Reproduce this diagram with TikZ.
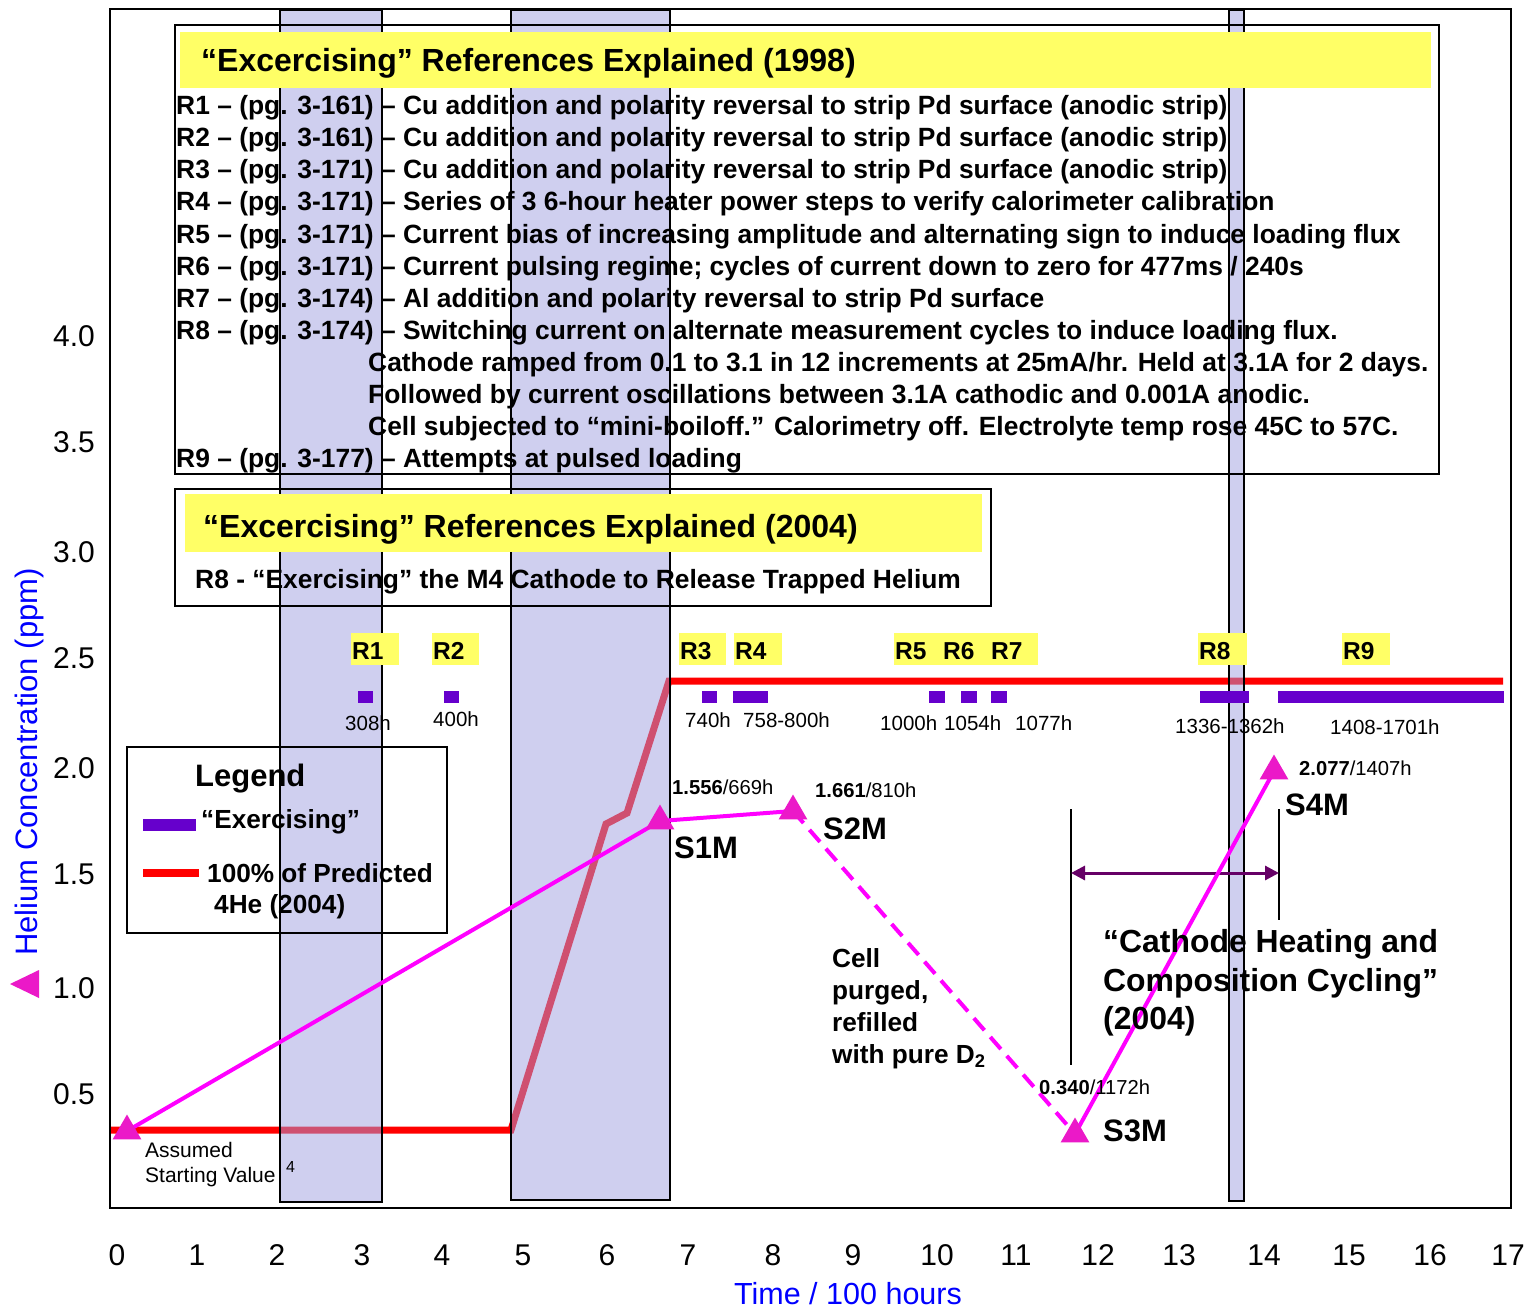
\documentclass[tikz,border=0pt]{standalone}
\usepackage{fontspec}
\setmainfont{Liberation Sans}
\usetikzlibrary{arrows.meta,shapes.geometric}
\definecolor{bandfill}{RGB}{160,160,225}
\definecolor{hlyellow}{RGB}{255,255,102}
\definecolor{exerc}{RGB}{102,0,204}
\definecolor{triColor}{RGB}{235,25,200}
\definecolor{magline}{RGB}{255,0,255}
\definecolor{arrowpurple}{RGB}{102,0,102}
\definecolor{axisblue}{RGB}{0,0,255}
\begin{document}
\begin{tikzpicture}[x=1pt,y=-1pt,
  titletxt/.style={font=\fontsize{32}{38}\selectfont\bfseries, anchor=base west, inner sep=0},
  bodytxt/.style={font=\fontsize{26.4}{30}\selectfont\bfseries, anchor=base west, inner sep=0},
  rlab/.style={font=\fontsize{24.5}{30}\selectfont\bfseries, anchor=base west, inner sep=0},
  hourlab/.style={font=\fontsize{20.5}{24}\selectfont, anchor=base west, inner sep=0},
  vallab/.style={font=\fontsize{20.2}{24}\selectfont, anchor=base west, inner sep=0},
  slab/.style={font=\fontsize{31}{36}\selectfont\bfseries, anchor=base west, inner sep=0},
  annot/.style={font=\fontsize{26.2}{30}\selectfont\bfseries, anchor=base west, inner sep=0},
  bigannot/.style={font=\fontsize{31.9}{38}\selectfont\bfseries, anchor=base west, inner sep=0},
  smallannot/.style={font=\fontsize{21}{25}\selectfont, anchor=base west, inner sep=0},
  ytick/.style={font=\fontsize{30}{36}\selectfont, anchor=base east, inner sep=0},
  xtick/.style={font=\fontsize{30}{36}\selectfont, anchor=base, inner sep=0},
  tri/.style={regular polygon, regular polygon sides=3, minimum size=33pt, inner sep=0pt, fill=triColor, draw=none},
  magl/.style={draw=magline, line width=4pt},
  band/.style={draw=black, line width=1.5pt, fill=bandfill, fill opacity=0.5},
  boxline/.style={draw=black, line width=2pt}
]
\useasboundingbox (0,0) rectangle (1528,1308);
\fill[white] (0,0) rectangle (1528,1308);

% predicted 4He (red)
\draw[red, line width=7pt] (110,1130) -- (511,1130) -- (606,824) -- (627,813) -- (669,681) -- (1503,681);

% shaded bands
\draw[band] (280,10) rectangle (382,1202);
\draw[band] (511,10) rectangle (670,1200);
\draw[band] (1229,10) rectangle (1244,1201);

% plot frame
\draw[line width=2.5pt] (110,9) rectangle (1511,1208);

% 1998 box
\draw[boxline] (175,25) rectangle (1439,474);
\fill[hlyellow] (180,32) rectangle (1431,88);
\node[titletxt] (t98) at (201,72) {“Excercising” References Explained (1998)};
\node[bodytxt] (l1) at (176,115) {R1 – (pg. 3-161) – Cu addition and polarity reversal to strip Pd surface (anodic strip)};
\node[bodytxt] (l2) at (176,147) {R2 – (pg. 3-161) – Cu addition and polarity reversal to strip Pd surface (anodic strip)};
\node[bodytxt] (l3) at (176,179) {R3 – (pg. 3-171) – Cu addition and polarity reversal to strip Pd surface (anodic strip)};
\node[bodytxt] (l4) at (176,211) {R4 – (pg. 3-171) – Series of 3 6-hour heater power steps to verify calorimeter calibration};
\node[bodytxt] (l5) at (176,243) {R5 – (pg. 3-171) – Current bias of increasing amplitude and alternating sign to induce loading flux};
\node[bodytxt] (l6) at (176,275) {R6 – (pg. 3-171) – Current pulsing regime; cycles of current down to zero for 477ms / 240s};
\node[bodytxt] (l7) at (176,307) {R7 – (pg. 3-174) – Al addition and polarity reversal to strip Pd surface};
\node[bodytxt] (l8) at (176,339) {R8 – (pg. 3-174) – Switching current on alternate measurement cycles to induce loading flux.};
\node[bodytxt] (l8a) at (368,371) {Cathode ramped from 0.1 to 3.1 in 12 increments at 25mA/hr. Held at 3.1A for 2 days.};
\node[bodytxt] (l8b) at (368,403) {Followed by current oscillations between 3.1A cathodic and 0.001A anodic.};
\node[bodytxt] (l8c) at (368,435) {Cell subjected to “mini-boiloff.” Calorimetry off. Electrolyte temp rose 45C to 57C.};
\node[bodytxt] (l9) at (176,467) {R9 – (pg. 3-177) – Attempts at pulsed loading};

% 2004 box
\draw[boxline] (175,489) rectangle (991,606);
\fill[hlyellow] (185,494) rectangle (982,552);
\node[titletxt] (t04) at (203,537) {“Excercising” References Explained (2004)};
\node[bodytxt] (b04) at (195,588) {R8 - “Exercising” the M4 Cathode to Release Trapped Helium};

% legend
\draw[boxline] (127,747) rectangle (447,933);
\node[font=\fontsize{31}{36}\selectfont\bfseries, anchor=base west, inner sep=0] (leg) at (195,786) {Legend};
\fill[exerc] (143,819) rectangle (196,831);
\node[annot] (legex) at (201,828) {“Exercising”};
\fill[red] (143,869) rectangle (199,877);
\node[annot] (legpr1) at (207,882) {100\% of Predicted};
\node[annot] (legpr2) at (214,913) {4He (2004)};

% R labels
\fill[hlyellow] (351,633) rectangle (399,665);
\fill[hlyellow] (432,633) rectangle (479,665);
\fill[hlyellow] (679,633) rectangle (726,665);
\fill[hlyellow] (734,633) rectangle (782,665);
\fill[hlyellow] (894,633) rectangle (1038,665);
\fill[hlyellow] (1198,633) rectangle (1247,665);
\fill[hlyellow] (1342,633) rectangle (1390,665);
\node[rlab] (rl1) at (352,659) {R1};
\node[rlab] (rl2) at (433,659) {R2};
\node[rlab] (rl3) at (680,659) {R3};
\node[rlab] (rl4) at (735,659) {R4};
\node[rlab] (rl5) at (895,659) {R5};
\node[rlab] (rl6) at (943,659) {R6};
\node[rlab] (rl7) at (991,659) {R7};
\node[rlab] (rl8) at (1199,659) {R8};
\node[rlab] (rl9) at (1343,659) {R9};

% exercising bars
\fill[exerc] (358,691) rectangle (373,703);
\fill[exerc] (444,691) rectangle (459,703);
\fill[exerc] (702,691) rectangle (717,703);
\fill[exerc] (733,691) rectangle (768,703);
\fill[exerc] (929,691) rectangle (945,703);
\fill[exerc] (961,691) rectangle (977,703);
\fill[exerc] (991,691) rectangle (1007,703);
\fill[exerc] (1200,691) rectangle (1249,703);
\fill[exerc] (1278,691) rectangle (1504,703);

% hour labels
\node[hourlab] (h1) at (345,730) {308h};
\node[hourlab] (h2) at (433,726) {400h};
\node[hourlab] (h3) at (685,727) {740h};
\node[hourlab] (h4) at (743,727) {758-800h};
\node[hourlab] (h5) at (880,730) {1000h};
\node[hourlab] (h6) at (944,730) {1054h};
\node[hourlab] (h7) at (1015,730) {1077h};
\node[hourlab] (h8) at (1175,733) {1336-1362h};
\node[hourlab] (h9) at (1330,734) {1408-1701h};

% bracket and double arrow
\coordinate (bl1) at (1071,809);
\coordinate (bl2) at (1071,1065);
\coordinate (br1) at (1279,809);
\coordinate (br2) at (1279,920);
\coordinate (al) at (1071,873);
\coordinate (ar) at (1279,873);
\draw[line width=1.5pt] (bl1) -- (bl2);
\draw[line width=1.5pt] (br1) -- (br2);
\draw[arrowpurple, line width=3pt, {Triangle[length=14pt,width=14pt]}-{Triangle[length=14pt,width=14pt]}] (al) -- (ar);

% measured helium data
\coordinate (p0) at (127,1131);
\coordinate (p1) at (660,821);
\coordinate (p2) at (793,811);
\coordinate (p3) at (1075,1134);
\coordinate (p4) at (1274,771);
\draw[magl] (p0) -- (p1);
\draw[magl] (p1) -- (p2);
\draw[magl, dash pattern=on 16pt off 9pt] (p2) -- (p3);
\draw[magl] (p3) -- (p4);
\node[tri] (s0) at (p0) {};
\node[tri] (s1) at (p1) {};
\node[tri] (s2) at (p2) {};
\node[tri] (s3) at (p3) {};
\node[tri] (s4) at (p4) {};

% data labels
\node[vallab] (v1) at (672,794) {\textbf{1.556}/669h};
\node[vallab] (v2) at (815,797) {\textbf{1.661}/810h};
\node[vallab] (v3) at (1039,1094) {\textbf{0.340}/1172h};
\node[vallab] (v4) at (1299,775) {\textbf{2.077}/1407h};
\node[slab] (n1) at (674,858) {S1M};
\node[slab] (n2) at (823,839) {S2M};
\node[slab] (n3) at (1103,1141) {S3M};
\node[slab] (n4) at (1285,815) {S4M};

% annotations
\node[smallannot] (as1) at (145,1157) {Assumed};
\node[smallannot] (as2) at (145,1182) {Starting Value};
\node[font=\fontsize{16}{18}\selectfont, anchor=base west, inner sep=0] (as3) at (286,1172) {4};
\node[annot] (c1) at (832,967) {Cell};
\node[annot] (c2) at (832,999) {purged,};
\node[annot] (c3) at (832,1031) {refilled};
\node[annot] (c4) at (832,1063) {with pure D\textsubscript{2}};
\node[bigannot] (k1) at (1103,952) {“Cathode Heating and};
\node[bigannot] (k2) at (1103,991) {Composition Cycling”};
\node[bigannot] (k3) at (1103,1029) {(2004)};

% axes ticks
\node[ytick] (y40) at (95,346) {4.0};
\node[ytick] (y35) at (95,452) {3.5};
\node[ytick] (y30) at (95,562) {3.0};
\node[ytick] (y25) at (95,668) {2.5};
\node[ytick] (y20) at (95,778) {2.0};
\node[ytick] (y15) at (95,884) {1.5};
\node[ytick] (y10) at (95,998) {1.0};
\node[ytick] (y05) at (95,1104) {0.5};
\foreach \v/\xx in {0/117,1/197,2/277,3/362,4/442,5/523,6/607,7/688,8/773,9/853,10/937,11/1016,12/1098,13/1179,14/1264,15/1349,16/1430,17/1508}
  \node[xtick] (xt\v) at (\xx,1265) {\v};

% axis titles
\node[font=\fontsize{30.5}{36}\selectfont, text=axisblue, anchor=base, inner sep=0] (xtitle) at (848,1304) {Time / 100 hours};
\node[font=\fontsize{31}{36}\selectfont, text=axisblue, anchor=base, rotate=90, inner sep=0] (ytitle) at (37,762) {Helium Concentration (ppm)};
\fill[triColor] (10,984) -- (39,970) -- (39,998) -- cycle;
\end{tikzpicture}
\end{document}
